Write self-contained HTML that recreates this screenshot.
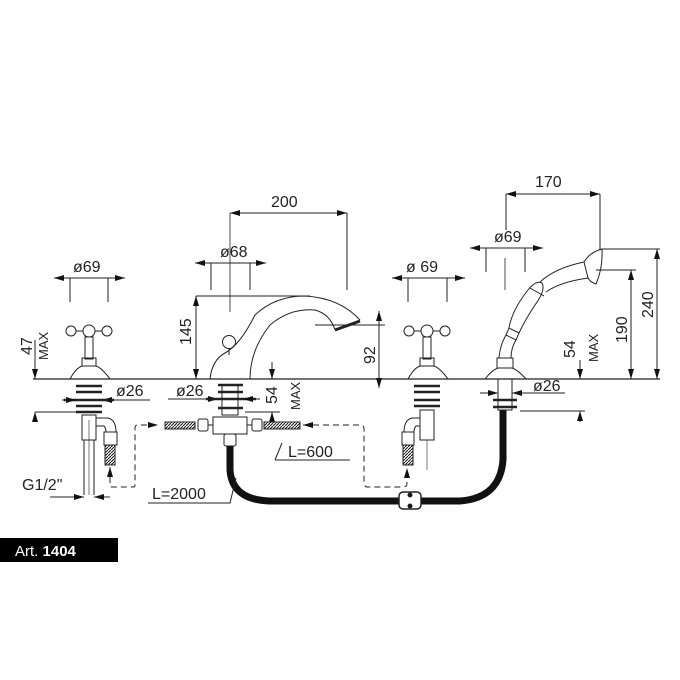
<!DOCTYPE html>
<html><head><meta charset="utf-8"><style>
html,body{margin:0;padding:0;background:#fff;}
svg{display:block;}
text{font-family:"Liberation Sans",sans-serif;fill:#222;}
</style></head><body>
<svg width="680" height="680" viewBox="0 0 680 680" xmlns="http://www.w3.org/2000/svg">
<defs>
<marker id="a" markerWidth="10" markerHeight="6" refX="10" refY="3" orient="auto-start-reverse" markerUnits="userSpaceOnUse"><path d="M0,0 L10,3 L0,6z" fill="#111"/></marker>
<pattern id="h" width="3" height="3" patternUnits="userSpaceOnUse"><rect width="3" height="3" fill="#fff"/><path d="M0,3 L3,0" stroke="#111" stroke-width="1"/></pattern>
</defs>
<g stroke="#222" stroke-width="1" fill="none">
<line x1="33" y1="379" x2="660" y2="379" stroke-width="1.2"/>
<line x1="54" y1="278" x2="125" y2="278" marker-start="url(#a)" marker-end="url(#a)"/>
<line x1="70" y1="278" x2="70" y2="302"/><line x1="108" y1="278" x2="108" y2="302"/>
<line x1="35" y1="340" x2="35" y2="379" marker-end="url(#a)"/>
<line x1="35" y1="412" x2="35" y2="422" marker-start="url(#a)"/>
<line x1="35" y1="412" x2="80" y2="412"/>
<circle cx="71" cy="331" r="5"/><circle cx="89" cy="331" r="6"/><circle cx="107" cy="331" r="5"/>
<line x1="76" y1="331" x2="83" y2="331"/><line x1="95" y1="331" x2="102" y2="331"/>
<rect x="85" y="337" width="8" height="22"/>
<rect x="82" y="358" width="14" height="8"/>
<path d="M70,379 Q76,368 82,366 L96,366 Q102,368 110,379"/>
<g stroke-width="2.5"><line x1="76" y1="386" x2="102" y2="386"/><line x1="76" y1="392" x2="102" y2="392"/><line x1="76" y1="406" x2="102" y2="406"/><line x1="76" y1="412" x2="102" y2="412"/><line x1="64" y1="400" x2="114" y2="400"/></g>
<rect x="82" y="415" width="14" height="25"/>
<line x1="84" y1="440" x2="84" y2="495"/><line x1="94" y1="440" x2="94" y2="495"/><line x1="89" y1="420" x2="89" y2="495" stroke-width="0.6"/>
<path d="M96,418 L108,418 Q116,420 116,432 M96,426 L104,426 Q106,428 106,432"/>
<rect x="104" y="432" width="13" height="13"/>
<rect x="105" y="445" width="10" height="20" fill="url(#h)"/>
<line x1="62" y1="400" x2="76" y2="400" marker-end="url(#a)"/><line x1="116" y1="400" x2="102" y2="400" marker-end="url(#a)"/>
<line x1="102" y1="400" x2="150" y2="400"/>
<line x1="50" y1="497" x2="84" y2="497" marker-end="url(#a)"/><line x1="110" y1="497" x2="94" y2="497" marker-end="url(#a)"/>
<path d="M110,467 L110,485 Q110,487 112,487 L133,487 Q135,487 135,485 L135,428 Q135,425 138,425 L158,425" stroke-dasharray="6,4" marker-start="url(#a)" marker-end="url(#a)"/>
<line x1="230" y1="213" x2="347" y2="213" marker-start="url(#a)" marker-end="url(#a)"/>
<line x1="230" y1="213" x2="230" y2="312" stroke-width="0.8"/><line x1="347" y1="213" x2="347" y2="290"/>
<line x1="195" y1="263" x2="266" y2="263" marker-start="url(#a)" marker-end="url(#a)"/>
<line x1="211" y1="263" x2="211" y2="290"/><line x1="250" y1="263" x2="250" y2="290"/>
<line x1="196" y1="296" x2="310" y2="296"/>
<line x1="196" y1="296" x2="196" y2="379" marker-start="url(#a)" marker-end="url(#a)"/>
<line x1="379" y1="311" x2="379" y2="388" marker-start="url(#a)" marker-end="url(#a)"/>
<line x1="315" y1="325" x2="385" y2="325"/>
<path d="M210,379 Q212,360 225,353 Q240,345 255,315 Q275,296 305,296 Q340,298 360,320"/>
<path d="M250,379 Q250,350 270,325 Q290,308 315,310 Q330,314 335,330"/>
<line x1="335" y1="330" x2="360" y2="321" stroke-width="3"/>
<circle cx="229" cy="342" r="6.5"/><line x1="229" y1="349" x2="229" y2="355"/>
<g stroke-width="2.5"><line x1="218" y1="385" x2="243" y2="385"/><line x1="218" y1="392" x2="243" y2="392"/><line x1="206" y1="399" x2="256" y2="399"/><line x1="218" y1="408" x2="243" y2="408"/></g>
<rect x="222" y="385" width="16" height="30"/>
<line x1="200" y1="399" x2="218" y2="399" marker-end="url(#a)"/><line x1="260" y1="399" x2="243" y2="399" marker-end="url(#a)"/>
<line x1="168" y1="399" x2="218" y2="399"/>
<line x1="272" y1="362" x2="272" y2="379" marker-end="url(#a)"/><line x1="272" y1="412" x2="272" y2="422" marker-start="url(#a)"/>
<line x1="245" y1="412" x2="280" y2="412"/>
<rect x="213" y="417" width="34" height="17" fill="#fff"/>
<rect x="198" y="419" width="10" height="12" rx="2"/><rect x="252" y="419" width="10" height="12" rx="2"/>
<rect x="165" y="422" width="30" height="7" fill="url(#h)"/><rect x="264" y="422" width="36" height="7" fill="url(#h)"/>
<line x1="208" y1="425" x2="213" y2="425"/><line x1="247" y1="425" x2="252" y2="425"/>
<rect x="224" y="434" width="12" height="12" rx="2"/>
<path d="M230,446 L230,470 Q232,500 270,501 L400,501 M420,501 L460,501 Q500,498 503,460 L503,410" stroke="#111" stroke-width="7"/>
<rect x="399" y="492" width="22" height="17" rx="4" fill="#fff" stroke-width="1.5"/>
<circle cx="410" cy="495" r="2" fill="#111"/><circle cx="410" cy="506" r="2" fill="#111"/>
<path d="M303,425 L360,425 Q364,425 364,429 L364,483 Q364,487 368,487 L403,487 Q407,487 407,483 L407,468" stroke-dasharray="6,4" marker-start="url(#a)" marker-end="url(#a)"/>
<path d="M275,460 L282,443 M275,460 L350,460"/>
<path d="M148,503 L230,503 L236,478"/>
<line x1="392" y1="278" x2="465" y2="278" marker-start="url(#a)" marker-end="url(#a)"/>
<line x1="408" y1="278" x2="408" y2="302"/><line x1="447" y1="278" x2="447" y2="302"/>
<circle cx="409" cy="331" r="5"/><circle cx="427" cy="331" r="6"/><circle cx="445" cy="331" r="5"/>
<line x1="414" y1="331" x2="421" y2="331"/><line x1="433" y1="331" x2="440" y2="331"/>
<rect x="423" y="337" width="8" height="22"/><rect x="420" y="358" width="14" height="8"/>
<path d="M408,379 Q414,368 420,366 L434,366 Q440,368 448,379"/>
<g stroke-width="2.5"><line x1="414" y1="386" x2="440" y2="386"/><line x1="414" y1="392" x2="440" y2="392"/><line x1="414" y1="400" x2="440" y2="400"/><line x1="414" y1="406" x2="440" y2="406"/></g>
<rect x="420" y="410" width="14" height="30"/>
<path d="M420,418 L412,418 Q404,420 404,432 M420,426 L416,426 Q414,428 414,432"/>
<rect x="402" y="432" width="12" height="13"/><rect x="403" y="445" width="10" height="20" fill="url(#h)"/>
<line x1="427" y1="440" x2="427" y2="470" stroke-width="0.6"/>
<!-- hand shower -->
<line x1="470" y1="248" x2="543" y2="248" marker-start="url(#a)" marker-end="url(#a)"/>
<line x1="486" y1="248" x2="486" y2="272"/><line x1="525" y1="248" x2="525" y2="272"/>
<line x1="505" y1="258" x2="505" y2="290" stroke-width="0.8"/>
<line x1="506" y1="194" x2="600" y2="194" marker-start="url(#a)" marker-end="url(#a)"/>
<line x1="506" y1="194" x2="506" y2="230"/><line x1="600" y1="194" x2="600" y2="250"/>
<path d="M485,379 Q492,370 498,368 L512,368 Q518,370 526,379"/>
<rect x="497" y="358" width="16" height="10"/>
<path d="M499,358 Q500,345 506,335 M511,358 Q511,348 516,340"/>
<path d="M506,335 L516,340 L519,333 L509,328 Z"/>
<path d="M509,328 Q512,310 528,290 Q536,280 542,283 Q546,290 535,305 Q525,320 519,333"/>
<line x1="530" y1="288" x2="544" y2="296"/>
<path d="M540,282 Q555,268 584,262 M546,292 Q560,282 588,278"/>
<path d="M584,262 Q590,252 602,249 Q603,268 596,284 Q590,282 588,278 Z"/>
<line x1="602" y1="249" x2="660" y2="249"/><line x1="596" y1="270" x2="636" y2="270"/>
<line x1="631" y1="270" x2="631" y2="379" marker-start="url(#a)" marker-end="url(#a)"/>
<line x1="657" y1="249" x2="657" y2="379" marker-start="url(#a)" marker-end="url(#a)"/>
<line x1="580" y1="360" x2="580" y2="379" marker-end="url(#a)"/><line x1="580" y1="411" x2="580" y2="422" marker-start="url(#a)"/>
<line x1="520" y1="411" x2="585" y2="411"/>
<g stroke-width="2.5"><line x1="493" y1="400" x2="517" y2="400"/><line x1="493" y1="407" x2="517" y2="407"/></g>
<rect x="498" y="379" width="14" height="31"/>
<line x1="480" y1="393" x2="498" y2="393" marker-end="url(#a)"/><line x1="530" y1="393" x2="512" y2="393" marker-end="url(#a)"/>
<line x1="512" y1="393" x2="565" y2="393"/>
</g>
<g font-size="16">
<text x="73" y="272">ø69</text>
<text x="220" y="257">ø68</text>
<text x="271" y="207">200</text>
<text x="406" y="272">ø 69</text>
<text x="494" y="242">ø69</text>
<text x="535" y="187">170</text>
<text x="116" y="396">ø26</text>
<text x="176" y="396">ø26</text>
<text x="533" y="391">ø26</text>
<text x="288" y="457">L=600</text>
<text x="152" y="499">L=2000</text>
<text x="22" y="490">G1/2"</text>
<text transform="translate(32,355) rotate(-90)">47</text>
<text transform="translate(48,360) rotate(-90)" font-size="13">MAX</text>
<text transform="translate(191,345) rotate(-90)">145</text>
<text transform="translate(375,364) rotate(-90)">92</text>
<text transform="translate(277,404) rotate(-90)">54</text>
<text transform="translate(300,410) rotate(-90)" font-size="13">MAX</text>
<text transform="translate(575,358) rotate(-90)">54</text>
<text transform="translate(598,362) rotate(-90)" font-size="13">MAX</text>
<text transform="translate(627,343) rotate(-90)">190</text>
<text transform="translate(653,318) rotate(-90)">240</text>
</g>
<rect x="0" y="538" width="118" height="24" fill="#000"/>
<text x="15" y="556" font-size="15" style="fill:#fff">Art. <tspan font-weight="bold">1404</tspan></text>
</svg>
</body></html>
